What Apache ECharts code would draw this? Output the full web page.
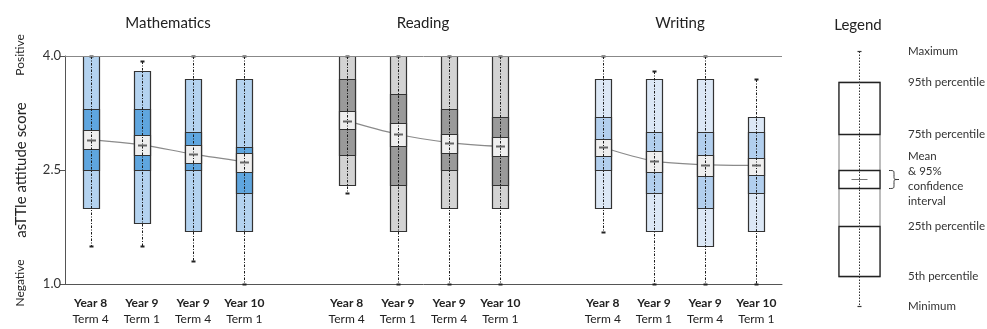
<!DOCTYPE html>
<html>
<head>
<meta charset="utf-8">
<script src="https://cdn.jsdelivr.net/npm/echarts@6/dist/echarts.min.js"></script>
<style>
  html, body { margin: 0; padding: 0; background: #fff; }
  #chart { width: 987px; height: 329px; }
</style>
</head>
<body>
<div id="chart"></div>
<script>
// panels + time points
const subjects = ['Mathematics', 'Reading', 'Writing'];
const periods = [['Year 8', 'Term 4'], ['Year 9', 'Term 1'], ['Year 9', 'Term 4'], ['Year 10', 'Term 1']];
const yTicks = [1.0, 2.5, 4.0];

// 12 boxes: Mathematics x4, Reading x4, Writing x4
const minimum = [1.5, 1.5, 1.3, 1.0, 2.2, 1.0, 1.0, 1.0, 1.68, 1.0, 1.0, 1.0];
const pct5    = [2.0, 1.8, 1.7, 1.7, 2.3, 1.7, 2.0, 2.0, 2.0, 1.7, 1.5, 1.7];
const pct25   = [2.5, 2.5, 2.5, 2.2, 2.7, 2.3, 2.5, 2.3, 2.5, 2.2, 2.0, 2.2];
const ciLow   = [2.77, 2.70, 2.59, 2.48, 3.04, 2.82, 2.72, 2.68, 2.68, 2.48, 2.42, 2.44];
const mean    = [2.90, 2.83, 2.71, 2.61, 3.15, 2.97, 2.86, 2.81, 2.80, 2.62, 2.57, 2.56];
const ciHigh  = [3.03, 2.96, 2.83, 2.73, 3.27, 3.12, 2.98, 2.94, 2.91, 2.75, 2.70, 2.66];
const pct75   = [3.3, 3.3, 3.0, 2.8, 3.7, 3.5, 3.3, 3.2, 3.2, 3.0, 3.0, 3.0];
const pct95   = [4.0, 3.8, 3.7, 3.7, 4.0, 4.0, 4.0, 4.0, 3.7, 3.7, 3.7, 3.2];
const maximum = [4.0, 3.93, 4.0, 4.0, 4.0, 4.0, 4.0, 4.0, 4.0, 3.8, 4.0, 3.7];

// legend key, schematic levels on a 0-10 scale
// min, p5, p25, ciLow, mean, ciHigh, p75, p95, max
const legendLevels = [0, 1.18, 3.14, 4.63, 4.98, 5.33, 6.75, 8.78, 10];
const legendLabels = [
  ['Maximum', 8],
  ['95th percentile', 7],
  ['75th percentile', 6],
  ['Mean\n& 95%\nconfidence\ninterval', 4],
  ['25th percentile', 2],
  ['5th percentile', 1],
  ['Minimum', 0]
];

const FONT = 'Lato';
const palettes = [
  {light: '#b4d3f0', dark: '#5fa6df'},
  {light: '#d3d3d3', dark: '#9a9a9a'},
  {light: '#dce8f6', dark: '#b2cfee'}
];
const ciFill = '#efefef';

// category slots, with an empty slot between subjects
const categories = [];
subjects.forEach((s, si) => {
  periods.forEach(p => categories.push(p[0] + '|' + p[1]));
  if (si < subjects.length - 1) categories.push('');
});
const slotOf = i => i + Math.floor(i / 4);

const boxData = mean.map((m, i) => [
  slotOf(i), minimum[i], pct5[i], pct25[i], ciLow[i], m, ciHigh[i], pct75[i], pct95[i], maximum[i], Math.floor(i / 4)
]);
const meanLine = categories.map(() => null);
mean.forEach((m, i) => { meanLine[slotOf(i)] = m; });

const px = v => Math.round(v) + 0.5;

function renderBox(params, api) {
  const x = api.value(0);
  const yOf = k => px(api.coord([x, api.value(k)])[1]);
  const band = api.size([1, 0])[0];
  const w = Math.round(band * 0.31);
  const cx = px(api.coord([x, 2.5])[0]);
  const left = cx - w / 2;
  const pal = palettes[api.value(10)];
  const seg = (top, bot, fill) => ({
    type: 'rect',
    shape: {x: left, y: yOf(top), width: w, height: yOf(bot) - yOf(top)},
    style: {fill: fill, stroke: '#333', lineWidth: 1.2}
  });
  const hline = (y, half, stroke, lw) => ({
    type: 'line', shape: {x1: cx - half, y1: y, x2: cx + half, y2: y},
    style: {stroke: stroke, lineWidth: lw}
  });
  return {
    type: 'group',
    children: [
      seg(8, 2, pal.light),
      seg(7, 3, pal.dark),
      seg(6, 4, ciFill),
      {
        type: 'line', shape: {x1: cx, y1: yOf(9), x2: cx, y2: yOf(1)},
        style: {stroke: '#1a1a1a', lineWidth: 1, lineDash: [2.5, 1.5, 1, 1.5]}
      },
      hline(yOf(9), 2, '#222', 2),
      hline(yOf(1), 2, '#222', 2),
      hline(yOf(5), 4.5, '#666', 2)
    ]
  };
}

function renderLegend(params, api) {
  const x = api.value(0);
  const yOf = k => px(api.coord([x, api.value(k)])[1]);
  const w = Math.round(api.size([1, 0])[0]);
  const cx = px(api.coord([x, 5])[0]);
  const left = cx - w / 2;
  const right = cx + w / 2;
  const seg = (top, bot, stroke) => ({
    type: 'rect',
    shape: {x: left, y: yOf(top), width: w, height: yOf(bot) - yOf(top)},
    style: {fill: '#fff', stroke: stroke, lineWidth: 1.3}
  });
  const hline = (y, half, stroke, lw) => ({
    type: 'line', shape: {x1: cx - half, y1: y, x2: cx + half, y2: y},
    style: {stroke: stroke, lineWidth: lw}
  });
  const bx = right + 9, bt = yOf(6), bb = yOf(4), bm = yOf(5);
  const brace = 'M' + bx + ' ' + bt +
    ' C' + (bx + 5) + ' ' + bt + ' ' + (bx + 5) + ' ' + bt + ' ' + (bx + 5) + ' ' + (bt + 4) +
    ' L' + (bx + 5) + ' ' + (bm - 3) +
    ' C' + (bx + 5) + ' ' + bm + ' ' + (bx + 5) + ' ' + bm + ' ' + (bx + 10) + ' ' + bm +
    ' C' + (bx + 5) + ' ' + bm + ' ' + (bx + 5) + ' ' + bm + ' ' + (bx + 5) + ' ' + (bm + 3) +
    ' L' + (bx + 5) + ' ' + (bb - 4) +
    ' C' + (bx + 5) + ' ' + bb + ' ' + (bx + 5) + ' ' + bb + ' ' + bx + ' ' + bb;
  const labels = legendLabels.map(l => ({
    type: 'text',
    x: right + 28,
    y: api.coord([x, legendLevels[l[1]]])[1],
    style: {
      text: l[0], fill: '#333', font: '11.5px ' + FONT,
      align: 'left', verticalAlign: 'middle', lineHeight: 15
    }
  }));
  return {
    type: 'group',
    children: [
      seg(8, 2, '#999'),
      seg(8, 7, '#222'),
      seg(3, 2, '#222'),
      seg(6, 4, '#222'),
      {
        type: 'line', shape: {x1: cx, y1: yOf(9), x2: cx, y2: yOf(1)},
        style: {stroke: '#333', lineWidth: 1, lineDash: [1.5, 1.5]}
      },
      hline(yOf(9), 2, '#333', 1.2),
      hline(yOf(1), 2, '#333', 1.2),
      hline(yOf(5), 8, '#777', 1),
      {type: 'path', shape: {pathData: brace}, style: {fill: 'none', stroke: '#333', lineWidth: 1}}
    ].concat(labels)
  };
}

const chart = echarts.init(document.getElementById('chart'));

const titleText = (text, x, y, size, rot) => ({
  type: 'text', x: x, y: y, rotation: rot || 0,
  style: {text: text, fill: '#222', font: size + 'px ' + FONT, align: 'center', verticalAlign: 'middle'}
});

chart.setOption({
  animation: false,
  textStyle: {fontFamily: FONT},
  grid: [
    {left: 65, right: 205, top: 56, bottom: 45},
    {left: 838, width: 41, top: 51, bottom: 23}
  ],
  xAxis: [{
    type: 'category',
    data: categories,
    boundaryGap: true,
    axisLine: {lineStyle: {color: '#555', width: 1}},
    axisTick: {
      alignWithLabel: true, length: 9,
      interval: (idx, val) => val !== '',
      lineStyle: {color: '#555'}
    },
    axisLabel: {
      interval: 0, margin: 11,
      formatter: v => {
        if (!v) return '';
        const p = v.split('|');
        return '{b|' + p[0] + '}\n{n|' + p[1] + '}';
      },
      rich: {
        b: {fontFamily: FONT, fontSize: 12, fontWeight: 'bold', color: '#222', lineHeight: 16},
        n: {fontFamily: FONT, fontSize: 12, color: '#222', lineHeight: 16}
      }
    }
  }, {
    gridIndex: 1, type: 'category', data: ['key'], show: false
  }],
  yAxis: [{
    type: 'value', min: 1, max: 4, interval: 1.5,
    name: 'asTTle attitude score', nameLocation: 'middle', nameGap: 36,
    nameTextStyle: {fontFamily: FONT, fontSize: 15, color: '#222'},
    axisLine: {show: true, lineStyle: {color: '#555', width: 1}},
    axisTick: {show: true, length: 5, lineStyle: {color: '#555'}},
    axisLabel: {
      margin: 4, fontFamily: FONT, fontSize: 13, color: '#333',
      formatter: v => yTicks.indexOf(v) >= 0 ? v.toFixed(1) : ''
    },
    splitLine: {show: false}
  }, {
    gridIndex: 1, type: 'value', min: 0, max: 10, show: false
  }],
  graphic: [
    titleText(subjects[0], 168, 23, 15),
    titleText(subjects[1], 423, 23, 15),
    titleText(subjects[2], 680, 23, 15),
    titleText('Legend', 858, 25, 15),
    titleText('Positive', 20, 55, 12, Math.PI / 2),
    titleText('Negative', 20, 283, 12, Math.PI / 2)
  ],
  series: [{
    type: 'line',
    data: meanLine,
    smooth: 0.35,
    connectNulls: false,
    symbol: 'none',
    lineStyle: {color: '#8a8a8a', width: 1.2},
    z: 1
  }, {
    type: 'custom',
    renderItem: renderBox,
    data: boxData,
    encode: {x: 0, y: [1, 9]},
    z: 2,
    markLine: {
      silent: true, symbol: 'none', label: {show: false},
      lineStyle: {color: '#888', type: 'solid', width: 1},
      data: [{yAxis: 4}]
    }
  }, {
    type: 'custom',
    xAxisIndex: 1, yAxisIndex: 1,
    renderItem: renderLegend,
    data: [[0].concat(legendLevels)],
    encode: {x: 0, y: [1, 9]},
    z: 2
  }]
});
</script>
</body>
</html>
